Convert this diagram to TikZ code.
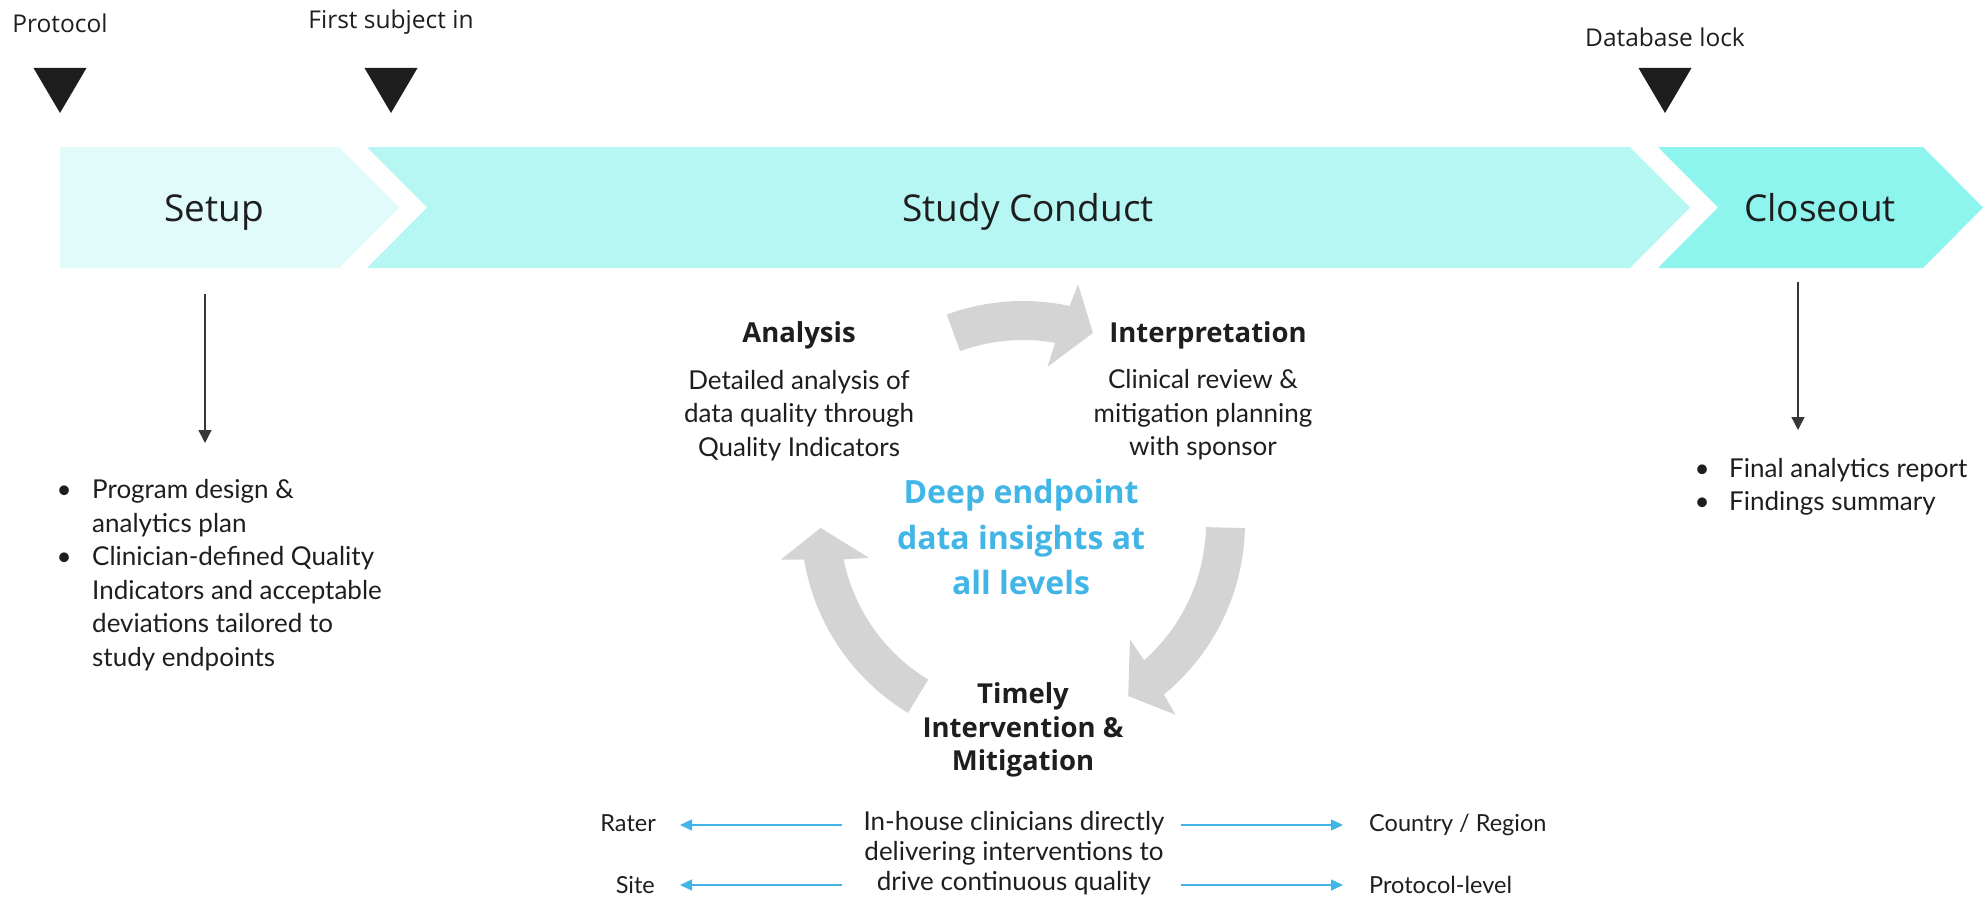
\documentclass[tikz,border=0pt]{standalone}
\usepackage{fontspec}
\setmainfont{Open Sans}
\newfontfamily\bodyfont{Lato}
\usetikzlibrary{arrows.meta}

\definecolor{setupfill}{RGB}{224,251,250}
\definecolor{conductfill}{RGB}{182,247,244}
\definecolor{closefill}{RGB}{142,245,238}
\definecolor{ink}{RGB}{30,30,30}
\definecolor{linkgray}{RGB}{55,55,55}
\definecolor{accent}{RGB}{64,181,230}
\definecolor{cyclegray}{RGB}{212,212,212}

% centre of the review cycle
\def\cycx{1023}
\def\cycy{523}

% curved cycle arrow running clockwise: #1 tail angle, #2 tip angle
\newcommand{\cyclearrow}[2]{%
  \pgfmathsetmacro{\caOuterEnd}{#2+8.1}%
  \pgfmathsetmacro{\caOuterBarb}{#2+7.2}%
  \pgfmathsetmacro{\caInnerBarb}{#2+11.3}%
  \pgfmathsetmacro{\caInnerEnd}{#2+10.1}%
  \fill[cyclegray]
    plot[domain=#1:\caOuterEnd, samples=48] ({\cycx+222*cos(\x)},{\cycy-222*sin(\x)})
    -- ({\cycx+245*cos(\caOuterBarb)},{\cycy-245*sin(\caOuterBarb)})
    -- ({\cycx+202.5*cos(#2)},{\cycy-202.5*sin(#2)})
    -- ({\cycx+158*cos(\caInnerBarb)},{\cycy-158*sin(\caInnerBarb)})
    -- plot[domain=\caInnerEnd:#1, samples=48] ({\cycx+183*cos(\x)},{\cycy-183*sin(\x)})
    -- cycle;}

% milestone marker: downward triangle centred on #1
\newcommand{\milestonemark}[1]{%
  \fill[ink] (#1-26.5,68) -- (#1+26.5,68) -- (#1,113) -- cycle;}

\begin{document}
\begin{tikzpicture}[x=1pt,y=-1pt,
  milestone/.style={font=\fontsize{24.5}{30}\selectfont, text=ink, inner sep=0pt},
  phase/.style={font=\fontsize{37}{44}\selectfont, text=ink, inner sep=0pt},
  heading/.style={font=\fontsize{27.5}{33.6}\selectfont\bfseries, text=ink, inner sep=0pt, align=center},
  insight/.style={font=\fontsize{32}{45.8}\selectfont\bfseries, text=accent, inner sep=0pt, align=center},
  body/.style={font=\bodyfont\fontsize{26}{33.5}\selectfont, text=ink, inner sep=0pt, align=center},
  bullets/.style={font=\bodyfont\fontsize{26}{33.5}\selectfont, text=ink, inner sep=0pt, align=left},
  levels/.style={font=\bodyfont\fontsize{26}{30}\selectfont, text=ink, inner sep=0pt, align=center},
  level/.style={font=\bodyfont\fontsize{23.5}{30}\selectfont, text=ink, inner sep=0pt},
  downlink/.style={draw=linkgray, line width=1.4pt, -{Triangle[width=13pt,length=13pt]}},
  levellink/.style={draw=accent, line width=1.5pt, -{Triangle[width=11pt,length=12pt]}},
]
\useasboundingbox (0,0) rectangle (1986,899);

% phase band
\fill[setupfill] (60,147) -- (339,147) -- (399,207.5) -- (339,268) -- (60,268) -- cycle;
\fill[conductfill] (367,147) -- (1630,147) -- (1690,207.5) -- (1630,268) -- (367,268) -- (427,207.5) -- cycle;
\fill[closefill] (1658,147) -- (1923,147) -- (1983,207.5) -- (1923,268) -- (1658,268) -- (1718,207.5) -- cycle;

\node[phase, anchor=base] (setupTitle) at (214,221) {Setup};
\node[phase, anchor=base] (conductTitle) at (1028,221) {Study Conduct};
\node[phase, anchor=base] (closeTitle) at (1820,221) {Closeout};

% milestones
\node[milestone, anchor=base] (protocolLbl) at (60,32.5) {Protocol};
\node[milestone, anchor=base] (fsiLbl) at (391,28.3) {First subject in};
\node[milestone, anchor=base] (dbLbl) at (1665,46.7) {Database lock};
\milestonemark{60}
\milestonemark{391}
\milestonemark{1665}

% setup deliverables
\coordinate (setupFrom) at (205,294);
\coordinate (setupTo) at (205,443);
\draw[downlink] (setupFrom) -- (setupTo);
\node[bullets, anchor=west] (setupList) at (92,575) {%
  \llap{\makebox[0pt][c]{\textbullet}\hspace{28pt}}Program design \&\\
  analytics plan\\
  \llap{\makebox[0pt][c]{\textbullet}\hspace{28pt}}Clinician-defined Quality\\
  Indicators and acceptable\\
  deviations tailored to\\
  study endpoints};

% closeout deliverables
\coordinate (closeFrom) at (1798,282);
\coordinate (closeTo) at (1798,430);
\draw[downlink] (closeFrom) -- (closeTo);
\node[bullets, anchor=west] (closeList) at (1729,487) {%
  \llap{\makebox[0pt][c]{\textbullet}\hspace{27pt}}Final analytics report\\
  \llap{\makebox[0pt][c]{\textbullet}\hspace{27pt}}Findings summary};

% review cycle
\cyclearrow{110.1}{69.8}
\cyclearrow{-1.3}{-58.7}
\cyclearrow{238.8}{181.4}

\node[heading, anchor=base] (analysisHead) at (799,342.7) {Analysis};
\node[body] (analysisText) at (799,415.5) {Detailed analysis of\\data quality through\\Quality Indicators};
\node[heading, anchor=base] (interpHead) at (1208,342.7) {Interpretation};
\node[body] (interpText) at (1203,415) {Clinical review \&\\mitigation planning\\with sponsor};
\node[insight] (insight) at (1021,537) {Deep endpoint\\data insights at\\all levels};
\node[heading] (mitigHead) at (1023,730) {Timely\\Intervention \&\\Mitigation};

% intervention levels
\node[levels] (clinicians) at (1014,853) {In-house clinicians directly\\delivering interventions to\\drive continuous quality};
\node[level, anchor=base east] (rater) at (656,831.7) {Rater};
\node[level, anchor=base east] (site) at (655,893.3) {Site};
\node[level, anchor=base west] (country) at (1369,831.7) {Country / Region};
\node[level, anchor=base west] (protocolLevel) at (1369,893.3) {Protocol-level};

\coordinate (raterFrom) at (842,825);
\coordinate (raterTo) at (680,825);
\coordinate (siteFrom) at (842,885);
\coordinate (siteTo) at (680,885);
\coordinate (countryFrom) at (1181,825);
\coordinate (countryTo) at (1343,825);
\coordinate (protoFrom) at (1181,885);
\coordinate (protoTo) at (1343,885);
\draw[levellink] (raterFrom) -- (raterTo);
\draw[levellink] (siteFrom) -- (siteTo);
\draw[levellink] (countryFrom) -- (countryTo);
\draw[levellink] (protoFrom) -- (protoTo);
\end{tikzpicture}
\end{document}
